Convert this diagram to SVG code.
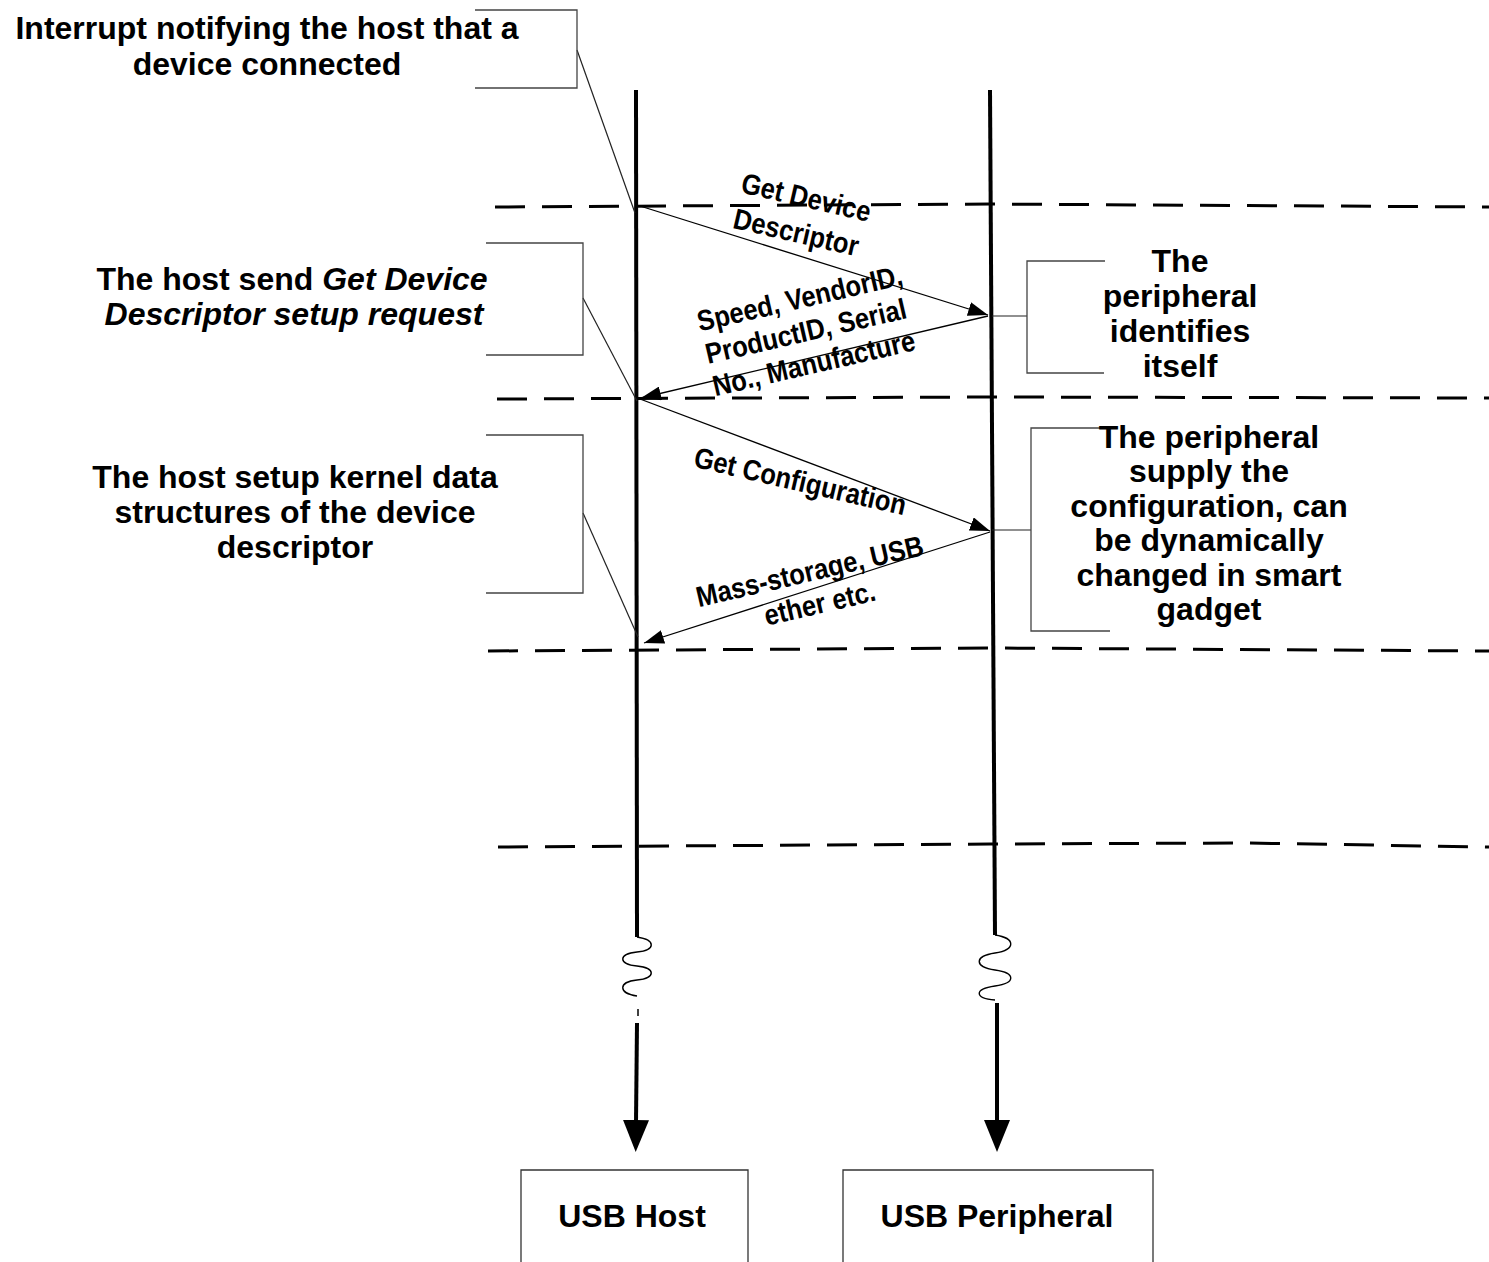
<svg xmlns="http://www.w3.org/2000/svg" width="1489" height="1262" viewBox="0 0 1489 1262">
  <style>
    .txt { font-family: "Liberation Sans", Arial, sans-serif; font-weight: bold; fill: #000; }
    .big { font-size: 32px; }
    .lbl { font-size: 29px; }
    .it { font-style: italic; }
    .bracket { fill: none; stroke: #444; stroke-width: 1.3; }
    .leader { fill: none; stroke: #222; stroke-width: 1.2; }
    .msg { fill: none; stroke: #000; stroke-width: 1.3; marker-end: url(#msgHead); }
    .life { fill: none; stroke: #000; stroke-width: 4; stroke-linecap: butt; }
    .lifeEnd { marker-end: url(#lifeHead); }
    .wave { fill: none; stroke: #000; stroke-width: 1.4; }
    .phase { fill: none; stroke: #000; stroke-width: 3; stroke-dasharray: 30 17; }
    .box { fill: none; stroke: #333; stroke-width: 1.3; }
  </style>
  <defs>
    <marker id="msgHead" viewBox="0 0 20 14" refX="20" refY="7" markerWidth="20" markerHeight="14" markerUnits="userSpaceOnUse" orient="auto">
      <path d="M0,0 L20,7 L0,14 z" fill="#000"/>
    </marker>
    <marker id="lifeHead" viewBox="0 0 32 26" refX="2" refY="13" markerWidth="32" markerHeight="26" markerUnits="userSpaceOnUse" orient="auto">
      <path d="M0,0 L32,13 L0,26 z" fill="#000"/>
    </marker>
  </defs>

  <rect width="1489" height="1262" fill="#fff"/>

  <!-- phase separators -->
  <g id="phases">
    <path class="phase" d="M495,207 L990,204 L1489,207"/>
    <path class="phase" d="M497,399 L990,397 L1489,398"/>
    <path class="phase" d="M488,651 L990,648 L1489,651"/>
    <path class="phase" d="M498,847 L990,844 L1246,843 L1489,847"/>
  </g>

  <!-- lifelines -->
  <g id="lifelines">
    <line class="life" x1="636" y1="90" x2="637" y2="937"/>
    <path class="wave" d="M637,937 C656,940 656,950 637,952 S618,964 637,966 S656,978 637,980 S618,993 637,996"/>
    <line x1="638" y1="1009" x2="638" y2="1016" stroke="#000" stroke-width="1.5"/>
    <line class="life lifeEnd" x1="637" y1="1023" x2="636" y2="1122"/>

    <line class="life" x1="990" y1="90" x2="995" y2="935"/>
    <path class="wave" d="M995,935 C1016,938 1016,950 995,953 S974,967 995,970 S1016,983 995,986 S974,998 995,1000"/>
    <line class="life lifeEnd" x1="997" y1="1003" x2="997" y2="1122"/>
  </g>

  <!-- messages -->
  <g id="connectors">
    <line class="msg" x1="640" y1="206" x2="988" y2="315"/>
    <line class="msg" x1="988" y1="316" x2="641" y2="398"/>
    <line class="msg" x1="640" y1="399" x2="990" y2="531"/>
    <line class="msg" x1="990" y1="532" x2="644" y2="643"/>

    <!-- callout leaders -->
    <line class="leader" x1="577" y1="50" x2="635" y2="213"/>
    <line class="leader" x1="583" y1="298" x2="637" y2="401"/>
    <line class="leader" x1="583" y1="513" x2="638" y2="637"/>
    <line class="leader" x1="992" y1="316" x2="1027" y2="316"/>
    <line class="leader" x1="992" y1="530" x2="1031" y2="530"/>
  </g>

  <!-- message labels (narrowed bold face) -->
  <g id="msg-labels" class="txt lbl" text-anchor="middle">
    <text transform="translate(804,207) rotate(13) scale(0.88,1)">Get Device</text>
    <text transform="translate(794,242) rotate(13) scale(0.88,1)">Descriptor</text>
    <text transform="translate(802,308) rotate(-13) scale(0.88,1)">Speed, VendorID,</text>
    <text transform="translate(808,341) rotate(-13) scale(0.88,1)">ProductID, Serial</text>
    <text transform="translate(816,373) rotate(-13) scale(0.88,1)">No., Manufacture</text>
    <text transform="translate(798,491) rotate(13) scale(0.88,1)">Get Configuration</text>
    <text transform="translate(812,581) rotate(-13) scale(0.88,1)">Mass-storage, USB</text>
    <text transform="translate(822,613) rotate(-13) scale(0.88,1)">ether etc.</text>
  </g>

  <!-- host-side notes -->
  <g id="note-interrupt">
    <path class="bracket" d="M475,10 H577 V88 H475"/>
    <text class="txt big" text-anchor="middle" x="267" y="39">Interrupt notifying the host that a</text>
    <text class="txt big" text-anchor="middle" x="267" y="75">device connected</text>
  </g>
  <g id="note-get-descriptor">
    <path class="bracket" d="M486,243 H583 V355 H486"/>
    <text class="txt big" text-anchor="middle" x="292" y="290">The host send <tspan class="it">Get Device</tspan></text>
    <text class="txt big it" text-anchor="middle" x="294" y="325">Descriptor setup request</text>
  </g>
  <g id="note-kernel">
    <path class="bracket" d="M486,435 H583 V593 H486"/>
    <text class="txt big" text-anchor="middle" x="295" y="488">The host setup kernel data</text>
    <text class="txt big" text-anchor="middle" x="295" y="523">structures of the device</text>
    <text class="txt big" text-anchor="middle" x="295" y="558">descriptor</text>
  </g>

  <!-- peripheral-side notes -->
  <g id="note-identify">
    <path class="bracket" d="M1105,261 H1027 V373 H1104"/>
    <text class="txt big" text-anchor="middle" x="1180" y="272">The</text>
    <text class="txt big" text-anchor="middle" x="1180" y="307">peripheral</text>
    <text class="txt big" text-anchor="middle" x="1180" y="342">identifies</text>
    <text class="txt big" text-anchor="middle" x="1180" y="377">itself</text>
  </g>
  <g id="note-configuration">
    <path class="bracket" d="M1115,428 H1031 V631 H1110"/>
    <text class="txt big" text-anchor="middle" x="1209" y="448">The peripheral</text>
    <text class="txt big" text-anchor="middle" x="1209" y="482">supply the</text>
    <text class="txt big" text-anchor="middle" x="1209" y="517">configuration, can</text>
    <text class="txt big" text-anchor="middle" x="1209" y="551">be dynamically</text>
    <text class="txt big" text-anchor="middle" x="1209" y="586">changed in smart</text>
    <text class="txt big" text-anchor="middle" x="1209" y="620">gadget</text>
  </g>

  <!-- participants -->
  <g id="usb-host">
    <path class="box" d="M521,1262 V1170 H748 V1262"/>
    <text class="txt big" text-anchor="middle" x="632" y="1227">USB Host</text>
  </g>
  <g id="usb-peripheral">
    <path class="box" d="M843,1262 V1170 H1153 V1262"/>
    <text class="txt big" text-anchor="middle" x="997" y="1227">USB Peripheral</text>
  </g>
</svg>
